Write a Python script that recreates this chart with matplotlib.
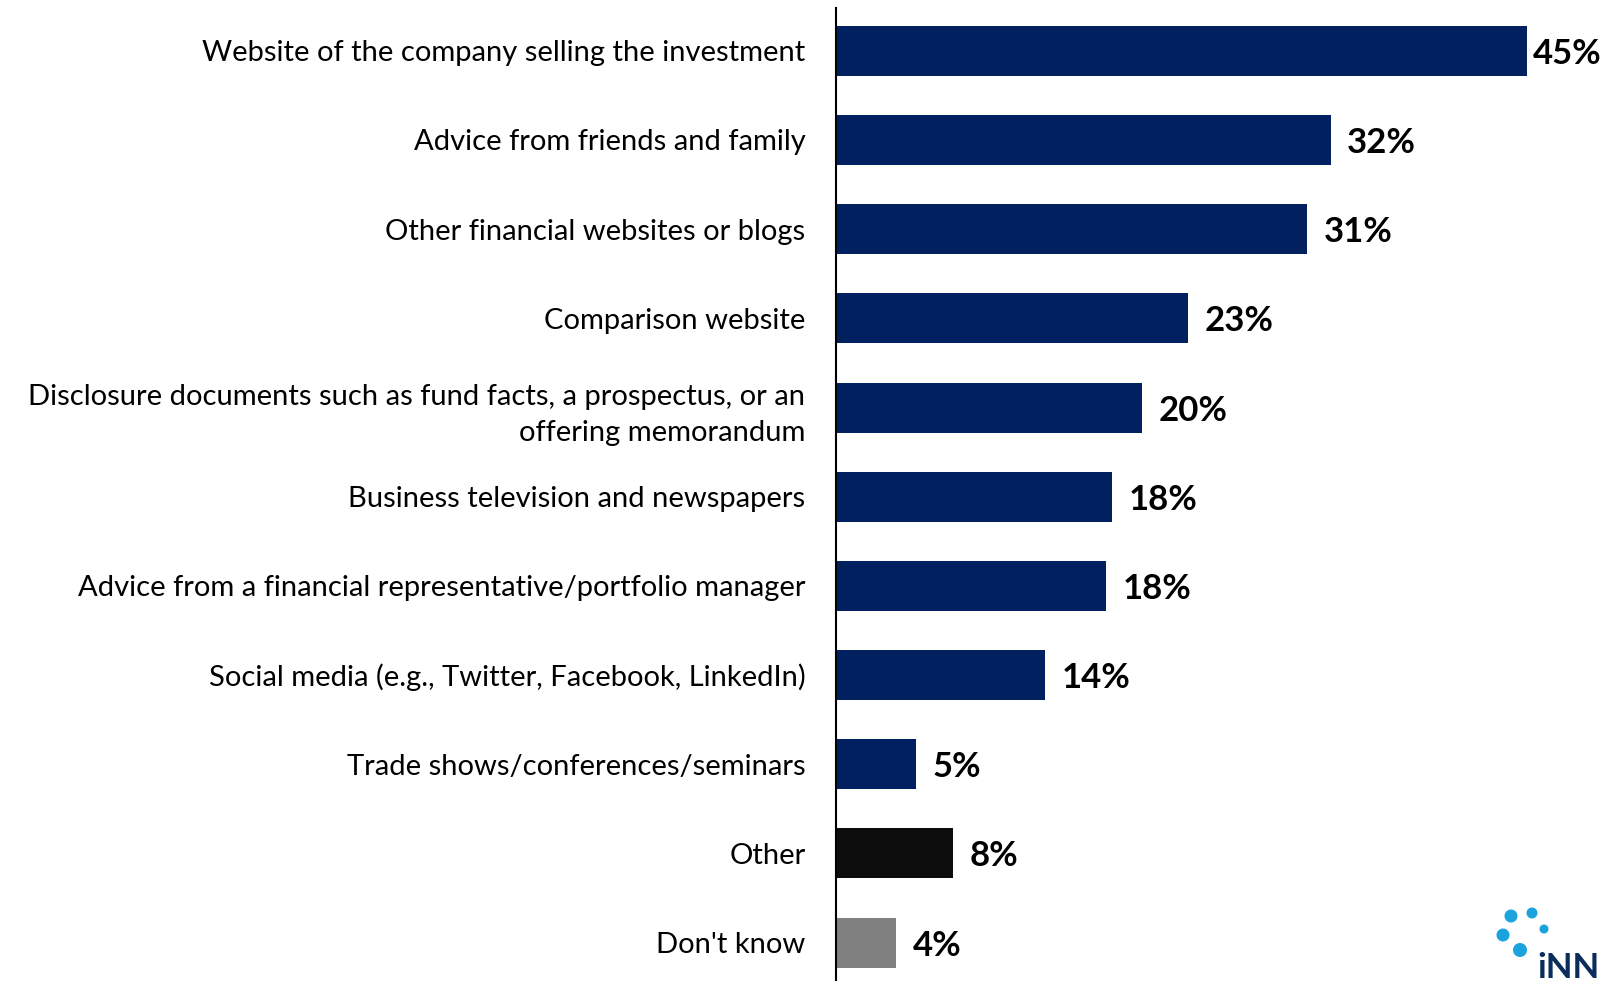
import matplotlib.pyplot as plt
from matplotlib.patches import Circle

plt.rcParams['font.family'] = ['Lato', 'DejaVu Sans']

# Données
categories = [
    "Website of the company selling the investment",
    "Advice from friends and family",
    "Other financial websites or blogs",
    "Comparison website",
    "Disclosure documents such as fund facts, a prospectus, or an\noffering memorandum",
    "Business television and newspapers",
    "Advice from a financial representative/portfolio manager",
    "Social media (e.g., Twitter, Facebook, LinkedIn)",
    "Trade shows/conferences/seminars",
    "Other",
    "Don't know",
]
values = [45.0, 32.2, 30.7, 22.9, 19.9, 18.0, 17.6, 13.6, 5.2, 7.6, 3.9]
value_labels = ["45%", "32%", "31%", "23%", "20%", "18%", "18%", "14%", "5%", "8%", "4%"]
colors = ["#002060"] * 9 + ["#0d0d0d", "#808080"]

W, H = 1610, 981
fig = plt.figure(figsize=(W / 100, H / 100), dpi=100)
ax = fig.add_axes([836 / W, 0, 1 - 836 / W, 1 - 8 / H])

y = list(range(len(categories)))
ax.barh(y, values, height=0.56, color=colors)
ax.set_xlim(0, 50.4)
ax.set_ylim(len(categories) - 1 + 0.43, -0.48)

for yi, v, lab in zip(y, values, value_labels):
    # la plus longue barre laisse peu de place à droite
    off = 4 if v == max(values) else 12
    ax.annotate(lab, (v, yi), xytext=(off, 0), textcoords="offset points",
                va="center_baseline", ha="left", fontsize=25, fontweight="bold",
                color="#000000", annotation_clip=False)

ax.set_yticks(y)
ax.set_yticklabels(categories, fontsize=21, color="#000000", linespacing=1.47)
ax.tick_params(axis="y", length=0, pad=22)
ax.set_xticks([])
for s in ["top", "right", "bottom"]:
    ax.spines[s].set_visible(False)
ax.spines["left"].set_linewidth(1.5)
ax.spines["left"].set_color("#000000")

# logo en bas à droite (coupé par le bord, comme l'original)
dots = [(1511, 916, 6.5), (1532, 913, 5.5), (1503, 935, 6.5),
        (1544, 929, 4.5), (1520, 950, 7)]
for cx, cy, r in dots:
    fig.patches.append(Circle((cx, H - cy), r, transform=None,
                              facecolor="#1aa3dc", edgecolor="none"))
fig.text(1537 / W, 1 - 978 / H, "iNN", fontsize=25, fontweight="bold",
         color="#0b2d5b", ha="left", va="baseline")

fig.savefig("out.png", dpi=100)
